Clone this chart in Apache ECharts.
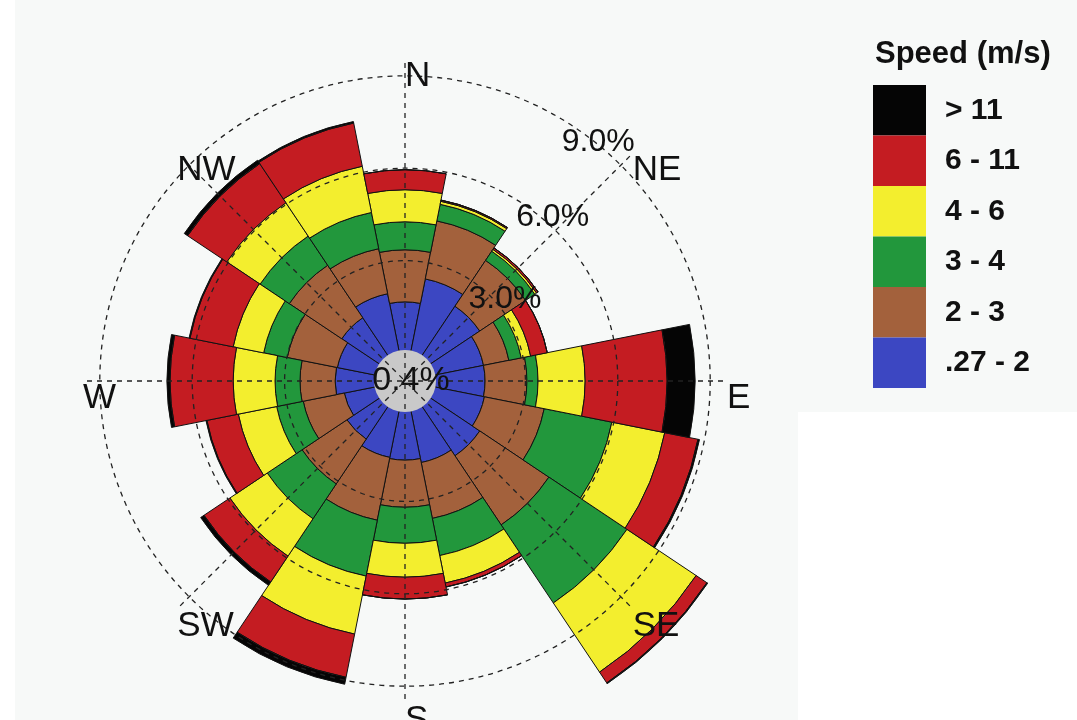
<!DOCTYPE html>
<html>
<head>
<meta charset="utf-8">
<script src="https://cdn.jsdelivr.net/npm/echarts@6/dist/echarts.min.js"></script>
<style>html,body{margin:0;padding:0;background:#fff}#c{width:1077px;height:720px}</style>
</head>
<body>
<div id="c"></div>
<script>
// 16 wind directions (clockwise from North)
var directions = ['N','NNE','NE','ENE','E','ESE','SE','SSE','S','SSW','SW','WSW','W','WNW','NW','NNW'];
// frequency (%) of each speed class per direction
var speed027to2 = [1.66, 2.47, 2.01, 1.69, 1.69, 1.72, 2.01, 1.79, 1.66, 1.62, 1.36, 1.10, 1.36, 1.33, 1.56, 1.98];
var speed2to3   = [1.69, 1.92, 1.79, 0.84, 1.36, 1.98, 2.70, 1.85, 1.53, 2.08, 1.75, 1.36, 1.14, 1.66, 2.05, 1.49];
var speed3to4   = [0.91, 0.55, 0.36, 0.41, 0.36, 2.24, 3.05, 1.23, 1.17, 1.85, 1.36, 0.88, 0.81, 0.78, 1.14, 1.20];
var speed4to6   = [1.04, 0.10, 0.07, 0.31, 1.53, 1.75, 2.70, 0.91, 1.10, 1.92, 1.46, 1.27, 1.36, 1.01, 1.30, 1.53];
var speed6to11  = [0.65, 0.04, 0.06, 0.55, 2.66, 1.10, 0.42, 0.13, 0.71, 1.43, 1.01, 1.04, 2.05, 1.43, 1.53, 1.43];
var speedOver11 = [0.00, 0.00, 0.00, 0.00, 0.91, 0.05, 0.03, 0.00, 0.00, 0.23, 0.13, 0.03, 0.10, 0.03, 0.13, 0.05];
var calmPercent = 0.4;
var classNames = ['.27 - 2', '2 - 3', '3 - 4', '4 - 6', '6 - 11', '> 11'];
var classColors = ['#3c47c2', '#a3613c', '#22973c', '#f3ee2e', '#c41c22', '#050505'];
var compassLabels = ['N','NE','E','SE','S','SW','W','NW'];
var ringTicks = [0, 3, 6, 9];

var chart = echarts.init(document.getElementById('c'));
var cx = 405, cy = 381, r0 = 28, pxPerPct = 30.8, labelR = 322;
var fam = "'Liberation Sans', Arial, sans-serif";
var classData = [speed027to2, speed2to3, speed3to4, speed4to6, speed6to11, speedOver11];

var series = classData.map(function (arr, i) {
  return {
    name: classNames[i],
    type: 'bar',
    coordinateSystem: 'polar',
    polarIndex: 0,
    stack: 'wind',
    barCategoryGap: '0%',
    data: arr,
    itemStyle: { color: classColors[i], borderColor: '#111', borderWidth: 1 },
    emphasis: { disabled: true },
    z: 2
  };
});
series.push({
  type: 'pie',
  center: [cx, cy],
  radius: [0, 31],
  silent: true,
  z: 3,
  data: [{ value: calmPercent, name: 'Calm' }],
  itemStyle: { color: '#c9c9c9' },
  label: {
    show: true, position: 'center', padding: [0, 0, 0, 12],
    formatter: function () { return calmPercent.toFixed(1) + '%'; },
    fontSize: 34, fontFamily: fam, color: '#111'
  },
  labelLine: { show: false }
});

// compass direction labels, anchored (top-left) on a circle around the rose
var compassGraphics = compassLabels.map(function (txt, i) {
  var a = i * 45 * Math.PI / 180;
  return {
    type: 'text', z: 20, silent: true,
    x: cx + labelR * Math.sin(a), y: cy - labelR * Math.cos(a),
    style: { text: txt, font: '35px ' + fam, fill: '#111', align: 'left', verticalAlign: 'top' }
  };
});

var ringRich = {
  r3: { fontSize: 32, fontFamily: fam, color: '#111', padding: [18, 0, 0, 42] },
  r6: { fontSize: 32, fontFamily: fam, color: '#111', padding: [0, 0, 6, 16] },
  r9: { fontSize: 32, fontFamily: fam, color: '#111', padding: [0, 14, 16, 0] }
};

var option = {
  animation: false,
  backgroundColor: '#ffffff',
  graphic: [
    { type: 'rect', shape: { x: 15, y: 0, width: 783, height: 720 }, style: { fill: '#f7f9f8' }, z: -10, silent: true },
    { type: 'rect', shape: { x: 798, y: 0, width: 279, height: 412 }, style: { fill: '#f7f9f8' }, z: -10, silent: true }
  ].concat(compassGraphics),
  title: {
    text: 'Speed (m/s)', left: 870, top: 34,
    textStyle: { fontSize: 31, fontWeight: 'bold', fontFamily: fam, color: '#111' }
  },
  legend: {
    orient: 'vertical', left: 868, top: 80,
    itemWidth: 53, itemHeight: 50.5, itemGap: 0, icon: 'rect',
    data: classNames.slice().reverse(),
    itemStyle: { borderWidth: 0 },
    textStyle: { fontSize: 30, fontWeight: 'bold', fontFamily: fam, color: '#111', padding: [0, 0, 6, 14] },
    selectedMode: false
  },
  polar: [
    { center: [cx, cy], radius: [r0, r0 + pxPerPct * 12] },
    { center: [cx, cy], radius: [0, 318] },
    { center: [cx, cy], radius: [r0, r0 + pxPerPct * 9] }
  ],
  angleAxis: [
    { polarIndex: 0, type: 'category', data: directions, startAngle: 101.25, clockwise: true, show: false },
    {
      polarIndex: 1, type: 'value', min: 0, max: 360, interval: 45, startAngle: 90, clockwise: true, z: 10,
      axisLine: { show: false }, axisTick: { show: false }, axisLabel: { show: false },
      splitLine: { show: true, lineStyle: { color: '#222', width: 1.3, type: [5, 5] } }
    },
    { polarIndex: 2, type: 'value', min: 0, max: 360, startAngle: 49, show: false }
  ],
  radiusAxis: [
    { polarIndex: 0, min: 0, max: 12, show: false },
    { polarIndex: 1, min: 0, max: 10, show: false },
    {
      polarIndex: 2, min: ringTicks[0], max: ringTicks[ringTicks.length - 1], interval: 3, z: 10,
      axisLine: { show: false }, axisTick: { show: false },
      splitLine: { show: true, lineStyle: { color: ['rgba(0,0,0,0)', '#222', '#222', '#222'], width: 1.3, type: [5, 5] } },
      axisLabel: {
        show: true, margin: 0, align: 'center', verticalAlign: 'middle',
        fontSize: 32, fontFamily: fam, color: '#111', rich: ringRich,
        formatter: function (v) { return v > 0 ? '{r' + v + '|' + v.toFixed(1) + '%}' : ''; }
      }
    }
  ],
  series: series
};
chart.setOption(option);
</script>
</body>
</html>
